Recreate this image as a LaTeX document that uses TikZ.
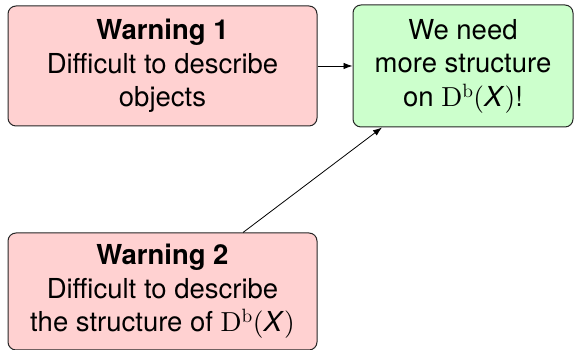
\documentclass[tikz,border=0pt]{standalone}
\usepackage[no-math]{fontspec}
\usepackage{amsmath}
\setmainfont{TeX Gyre Heros}
\newfontfamily\lmten{lmroman10-regular.otf}
\usetikzlibrary{arrows.meta}
\tikzset{
    box/.style={draw=black!85,line width=1pt,rounded corners=8pt,align=center,inner sep=0pt,
        font=\fontsize{27.5}{33.5}\selectfont},
    warnbox/.style={box,fill=red!18,minimum width=309pt,minimum height=120pt},
    needbox/.style={box,fill=green!20,minimum width=220pt,minimum height=122pt},
    link/.style={line width=0.8pt,-{Latex[length=9pt,width=6.5pt]}},
}
\newcommand{\Db}{{\lmten D}$^{\text{\lmten b}}${\lmten(}\textit{X}{\lmten)}}

\begin{document}
\begin{tikzpicture}[x=1pt,y=1pt]
\useasboundingbox (0,0) rectangle (574,350);
\node[warnbox] (warn1) at (162.5,284) {\textbf{Warning 1}\\Difficult to describe\\objects};
\node[needbox] (need) at (463,284) {We need\\more structure\\on \Db!};
\node[warnbox,minimum height=117pt] (warn2) at (162.5,58.5) {\textbf{Warning 2}\\Difficult to describe\\the structure of \Db};
%arrows
\draw[link] (warn1.east) -- (need.west);
\draw[link] ([xshift=80.5pt]warn2.north) -- ([xshift=-81pt]need.south);
\end{tikzpicture}
\end{document}
